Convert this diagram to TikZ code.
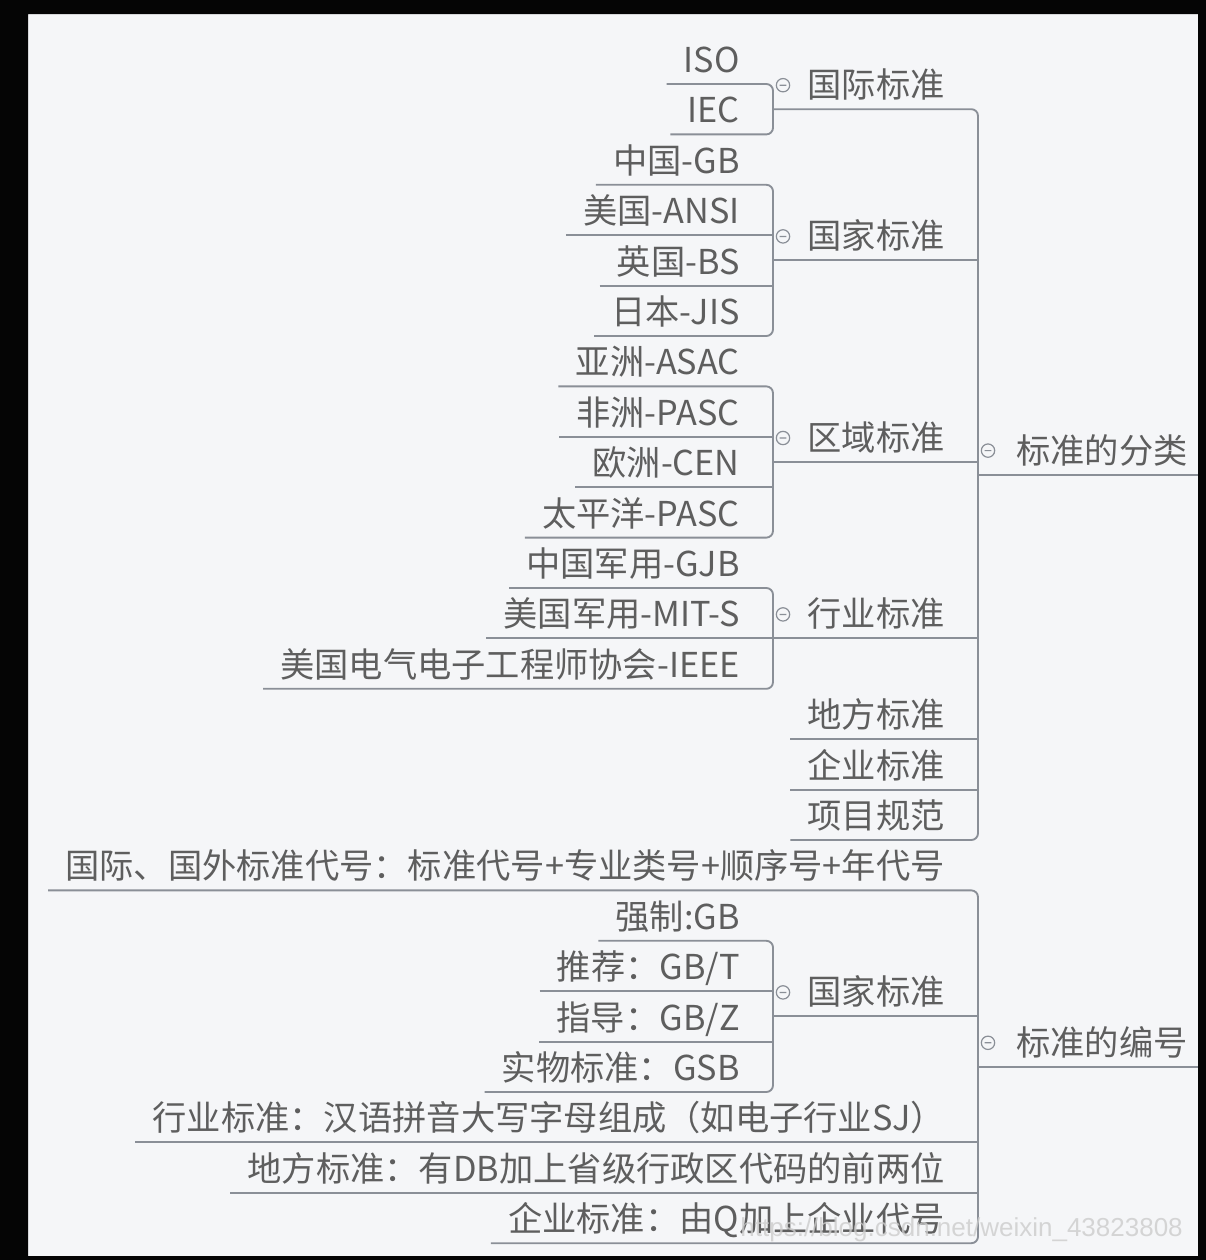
\documentclass[tikz,border=0pt]{standalone}
\usepackage{fontspec}
\setmainfont{Noto Sans CJK SC}
\newfontfamily\wmfont{Liberation Sans}
\usepackage{tikz}
\usetikzlibrary{calc}
\definecolor{bgc}{HTML}{F5F6F8}
\definecolor{txtc}{HTML}{5E5E5E}
\definecolor{linkc}{HTML}{8A8F97}

\begin{document}
\begin{tikzpicture}[
		x=0.75pt, y=-0.75pt,
		topic/.style={anchor=south east, inner xsep=12.75pt, inner ysep=8.4pt, text depth=0pt,
			text=txtc, font=\fontsize{25.7pt}{30pt}\selectfont},
		link/.style={draw=linkc, line width=1.4pt, rounded corners=5pt},
		foldc/.style={draw=linkc, line width=0.9pt, fill=bgc}
		]
		\useasboundingbox (0,0) rectangle (1206,1260);
		\fill[bgc] (0,0) rectangle (1206,1260);
		\coordinate (bar1) at (978,0);
		\coordinate (bar2) at (773,0);

		% roots
		\node[topic] (fl) at (1205,474.6) {标准的分类};
		\node[topic] (bh) at (1205,1066.8) {标准的编号};

		% 标准的分类
		\node[topic] (gj) at (962,109.2) {国际标准};
		\node[topic] (gjia) at (962,260.4) {国家标准};
		\node[topic] (qy) at (962,462) {区域标准};
		\node[topic] (hy) at (962,638.4) {行业标准};
		\node[topic] (df) at (962,739.2) {地方标准};
		\node[topic] (qi) at (962,789.6) {企业标准};
		\node[topic] (xm) at (962,840) {项目规范};

		\node[topic] (iso) at (757,84) {ISO};
		\node[topic] (iec) at (757,134.4) {IEC};
		\node[topic] (cn) at (757,184.8) {中国-GB};
		\node[topic] (us) at (757,235.2) {美国-ANSI};
		\node[topic] (uk) at (757,285.6) {英国-BS};
		\node[topic] (jp) at (757,336) {日本-JIS};
		\node[topic] (as) at (757,386.4) {亚洲-ASAC};
		\node[topic] (af) at (757,436.8) {非洲-PASC};
		\node[topic] (eu) at (757,487.2) {欧洲-CEN};
		\node[topic] (pa) at (757,537.6) {太平洋-PASC};
		\node[topic] (cnm) at (757,588) {中国军用-GJB};
		\node[topic] (usm) at (757,638.4) {美国军用-MIT-S};
		\node[topic] (ieee) at (757,688.8) {美国电气电子工程师协会-IEEE};

		% 标准的编号
		\node[topic] (gw) at (962,890.4) {国际、国外标准代号：标准代号+专业类号+顺序号+年代号};
		\node[topic] (gjb) at (962,1016.4) {国家标准};
		\node[topic] (hyb) at (962,1142.4) {行业标准：汉语拼音大写字母组成（如电子行业SJ）};
		\node[topic] (dfb) at (962,1192.8) {地方标准：有DB加上省级行政区代码的前两位};
		\node[topic] (qib) at (962,1243.2) {企业标准：由Q加上企业代号};

		\node[topic] (qz) at (757,940.8) {强制:GB};
		\node[topic] (tj) at (757,991.2) {推荐：GB/T};
		\node[topic] (zd) at (757,1041.6) {指导：GB/Z};
		\node[topic] (sw) at (757,1092) {实物标准：GSB};

		% links, level 1
		\draw[link] (fl.south -| bar1) -- (fl.south east);
		\draw[link] (gj.south -| bar2) -- (gj.south -| bar1) |- (xm.south west);
		\foreach \n in {gjia,qy,hy} \draw[link] (\n.south -| bar2) -- (\n.south -| bar1);
		\foreach \n in {df,qi} \draw[link] (\n.south west) -- (\n.south -| bar1);

		\draw[link] (bh.south -| bar1) -- (bh.south east);
		\draw[link] (gw.south west) -- (gw.south -| bar1) |- (qib.south west);
		\draw[link] (gjb.south -| bar2) -- (gjb.south -| bar1);
		\foreach \n in {hyb,dfb} \draw[link] (\n.south west) -- (\n.south -| bar1);

		% links, level 2
		\draw[link] (iso.south west) -- (iso.south -| bar2) |- (iec.south west);
		\draw[link] (cn.south west) -- (cn.south -| bar2) |- (jp.south west);
		\draw[link] (as.south west) -- (as.south -| bar2) |- (pa.south west);
		\draw[link] (cnm.south west) -- (cnm.south -| bar2) |- (ieee.south west);
		\draw[link] (qz.south west) -- (qz.south -| bar2) |- (sw.south west);
		\foreach \n in {us,uk,af,eu,usm,tj,zd} \draw[link] (\n.south west) -- (\n.south -| bar2);

		% fold marks
		\foreach \n/\b in {gj/bar2,gjia/bar2,qy/bar2,hy/bar2,gjb/bar2,fl/bar1,bh/bar1}
			\draw[foldc] ($(\n.south -| \b)+(10,-24)$) circle[radius=5pt] ++(-2.5pt,0) -- ++(5pt,0);

		% watermark
		\node[anchor=base east, inner sep=0pt, text=black!20, text opacity=0.8,
			font=\wmfont\fontsize{19.5pt}{21pt}\selectfont] (wm) at (1183,1236) {https://blog.csdn.net/weixin\_43823808};

		% frame
		\fill[black!98, even odd rule] (0,0) rectangle (1206,1260) (28,14) rectangle (1198,1256);
	\end{tikzpicture}
\end{document}
